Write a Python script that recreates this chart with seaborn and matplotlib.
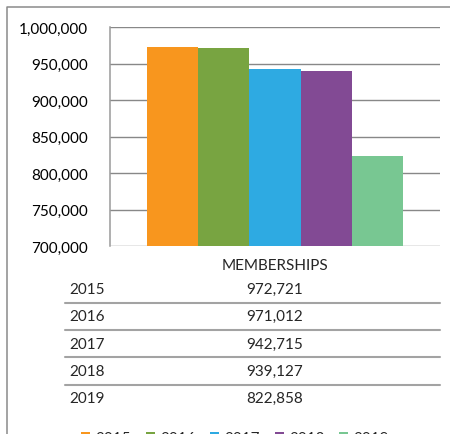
import pandas as pd
import numpy as np
import matplotlib.pyplot as plt
import seaborn as sns
from matplotlib.lines import Line2D
from matplotlib.ticker import FuncFormatter

#%% Dados
years = ["2015", "2016", "2017", "2018", "2019"]
memberships = [972721, 971012, 942715, 939127, 822858]
category = "MEMBERSHIPS"
colors = ["#F8961E", "#78A441", "#2EAAE2", "#824A94", "#78C792"]

df = pd.DataFrame({"Categoria": [category] * len(years), "Ano": years, "Valor": memberships})

#%% Figura
sns.set_style("white")
plt.rcParams["font.family"] = ["Lato", "DejaVu Sans"]
plt.rcParams["font.size"] = 11

W, H = 450, 435
fig = plt.figure(figsize=(W / 100, H / 100), dpi=100)


def fx(px):
    return px / W


def fy(py):
    return 1 - py / H


ax = fig.add_axes([fx(110), fy(247), fx(440) - fx(110), fy(28) - fy(247)])
sns.barplot(data=df, x="Categoria", y="Valor", hue="Ano", palette=colors,
            width=0.775, saturation=1, linewidth=0, ax=ax, legend=True)

ax.set_ylim(700000, 1000000)
ax.set_yticks(np.arange(700000, 1000001, 50000))
ax.yaxis.set_major_formatter(FuncFormatter(lambda v, p: f"{v:,.0f}"))
ax.set_xlabel("")
ax.set_ylabel("")
ax.grid(axis="y", color="#888888", linewidth=1.0)
ax.set_axisbelow(True)
for s in ["top", "right", "bottom"]:
    ax.spines[s].set_visible(False)
ax.spines["left"].set_color("#9a9a9a")
ax.spines["left"].set_linewidth(1.1)
ax.tick_params(axis="y", length=5, width=1.0, color="#888888", pad=11,
               labelsize=11, labelcolor="#000000")
ax.tick_params(axis="x", length=0, pad=9, labelsize=11)

# Legenda (cortada na parte de baixo, como no original)
handles, labels = ax.get_legend_handles_labels()
ax.get_legend().remove()
fig.legend(handles, labels, ncol=5, frameon=False, loc="upper left",
           bbox_to_anchor=(fx(81), fy(432)), borderpad=0, borderaxespad=0,
           handlelength=0.6, handleheight=0.6, handletextpad=0.35,
           columnspacing=0.95, fontsize=11)

#%% Tabela de dados
row_y = [290, 317, 345, 372, 399]
sep_y = [304, 331, 358, 386]
for yr, val, y in zip(years, memberships, row_y):
    fig.text(fx(69), fy(y), yr, ha="left", va="center", fontsize=11)
    fig.text(fx(275), fy(y), f"{val:,}", ha="center", va="center", fontsize=11)
for y in sep_y:
    fig.add_artist(Line2D([fx(65), fx(440)], [fy(y), fy(y)], color="#a3a3a3",
                          linewidth=1.5, transform=fig.transFigure))

# Moldura externa
fig.add_artist(Line2D([fx(6.5), fx(6.5), fx(451)], [fy(436), fy(8), fy(8)],
                      color="#8a8a8a", linewidth=1.1, transform=fig.transFigure))

plt.savefig("out.png", dpi=100)
